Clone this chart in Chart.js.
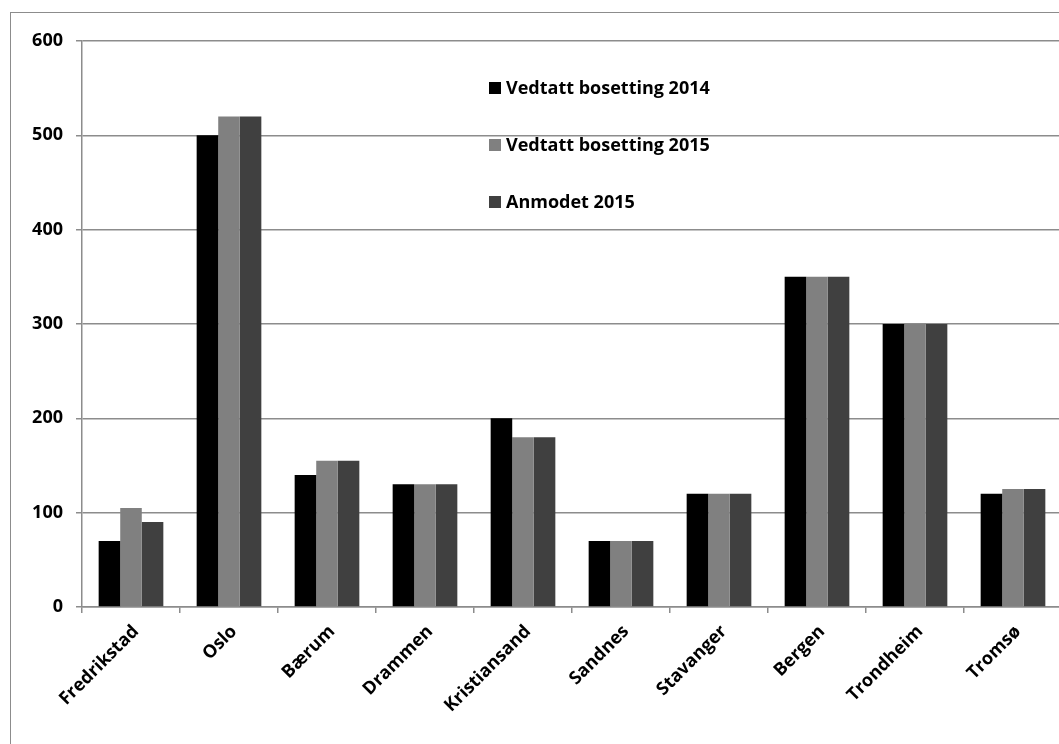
<!DOCTYPE html>
<html>
<head>
<meta charset="utf-8">
<script src="https://cdn.jsdelivr.net/npm/chart.js@4.4.1/dist/chart.umd.min.js"></script>
<style>
  html, body { margin: 0; padding: 0; background: #fff; overflow: hidden; width: 1059px; height: 744px; }
  #frame { position: absolute; left: 10px; top: 12px; width: 1200px; height: 900px; border: 1.5px solid #8c8c8c; box-sizing: border-box; }
  #wrap { position: absolute; left: 0; top: 0; width: 1070px; height: 744px; }
  #legend { position: absolute; left: 489px; top: 74px; font-family: "Open Sans", sans-serif; font-weight: bold; font-size: 18px; color: #000; }
  #legend .item { position: relative; height: 57px; line-height: 26px; white-space: nowrap; }
  #legend .box { display: inline-block; width: 12px; height: 12px; margin-right: 5px; vertical-align: 0px; }
</style>
</head>
<body>
<div id="frame"></div>
<div id="wrap"><canvas id="chart" width="1070" height="744"></canvas></div>
<div id="legend"></div>
<script>
// kommuner og tall
const kommuner = ['Fredrikstad', 'Oslo', 'Bærum', 'Drammen', 'Kristiansand', 'Sandnes', 'Stavanger', 'Bergen', 'Trondheim', 'Tromsø'];
const vedtatt2014 = [70, 500, 140, 130, 200, 70, 120, 350, 300, 120];
const vedtatt2015 = [105, 520, 155, 130, 180, 70, 120, 350, 300, 125];
const anmodet2015 = [90, 520, 155, 130, 180, 70, 120, 350, 300, 125];
const serieNavn = ['Vedtatt bosetting 2014', 'Vedtatt bosetting 2015', 'Anmodet 2015'];
const serieFarger = ['#000000', '#808080', '#404040'];
const yTicks = [0, 100, 200, 300, 400, 500, 600];

const gridColor = '#8c8c8c';
const tickFont = { family: '"Open Sans", sans-serif', weight: 'bold', size: 18 };

const ctx = document.getElementById('chart').getContext('2d');
const chart = new Chart(ctx, {
  type: 'bar',
  data: {
    labels: kommuner,
    datasets: [vedtatt2014, vedtatt2015, anmodet2015].map((values, i) => ({
      label: serieNavn[i],
      data: values,
      backgroundColor: serieFarger[i],
      borderWidth: 0,
      categoryPercentage: 0.66,
      barPercentage: 1.0
    }))
  },
  options: {
    responsive: false,
    animation: false,
    layout: { padding: { top: 41, left: 0, right: 8, bottom: 7 } },
    plugins: {
      legend: { display: false },
      tooltip: { enabled: false }
    },
    scales: {
      x: {
        grid: { offset: true, drawOnChartArea: false, color: gridColor, lineWidth: 1.5, tickLength: 6 },
        border: { color: gridColor, width: 1.5 },
        ticks: {
          color: '#000',
          font: { family: '"Open Sans", sans-serif', weight: 'bold', size: 18 },
          minRotation: 45,
          maxRotation: 45,
          padding: 8,
          labelOffset: 5
        },
        afterFit: scale => { scale.height = 130; }
      },
      y: {
        min: 0,
        max: 600,
        afterBuildTicks: scale => { scale.ticks = yTicks.map(v => ({ value: v })); },
        grid: { color: gridColor, lineWidth: 1.5, tickLength: 6 },
        border: { color: gridColor, width: 1.5 },
        ticks: { color: '#000', font: tickFont, padding: 13 },
        afterFit: scale => { scale.width = 82; }
      }
    }
  }
});

// Legend inne i plottet
const legend = document.getElementById('legend');
chart.data.datasets.forEach(ds => {
  const item = document.createElement('div');
  item.className = 'item';
  const box = document.createElement('span');
  box.className = 'box';
  box.style.background = ds.backgroundColor;
  item.appendChild(box);
  item.appendChild(document.createTextNode(ds.label));
  legend.appendChild(item);
});
</script>
</body>
</html>
